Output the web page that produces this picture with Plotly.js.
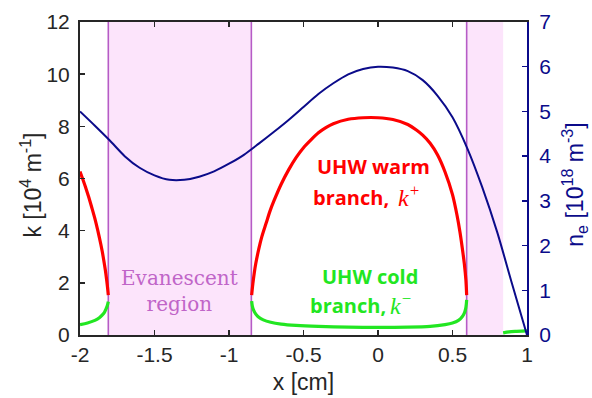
<!DOCTYPE html>
<html>
<head>
<meta charset="utf-8">
<script src="https://cdn.plot.ly/plotly-3.0.1.min.js"></script>
<style>html,body{margin:0;padding:0;background:#fff;}#chart{width:592px;height:398px;}</style>
</head>
<body>
<div id="chart"></div>
<script>
// ---- data ----
const xRedLeft = [-2, -1.98, -1.96, -1.94, -1.92, -1.9, -1.88, -1.86, -1.85, -1.84, -1.83, -1.82, -1.815, -1.81];
const kRedLeft = [6.27, 5.95, 5.62, 5.26, 4.87, 4.46, 3.99, 3.47, 3.18, 2.85, 2.49, 2.06, 1.81, 1.53];

const xGreenLeft = [-2, -1.95, -1.9, -1.87, -1.85, -1.835, -1.825, -1.817, -1.81];
const kGreenLeft = [0.4, 0.46, 0.56, 0.66, 0.77, 0.88, 1.0, 1.12, 1.28];

const xRedMid = [-0.848, -0.845, -0.84, -0.83, -0.82, -0.8, -0.78, -0.75, -0.725, -0.7, -0.65, -0.6, -0.55, -0.5, -0.45, -0.4, -0.35, -0.3, -0.2, -0.1, 0, 0.1, 0.2, 0.26, 0.3, 0.35, 0.4, 0.45, 0.5, 0.53, 0.55, 0.57, 0.58, 0.59, 0.595];
const kRedMid = [1.53, 1.7, 1.96, 2.4, 2.75, 3.3, 3.76, 4.3, 4.75, 5.12, 5.78, 6.33, 6.8, 7.18, 7.48, 7.75, 7.95, 8.1, 8.27, 8.33, 8.33, 8.26, 8.07, 7.85, 7.66, 7.35, 6.9, 6.25, 5.38, 4.6, 3.95, 3.15, 2.7, 2.1, 1.53];

const xGreenMid = [-0.848, -0.843, -0.835, -0.82, -0.8, -0.77, -0.72, -0.65, -0.55, -0.4, -0.2, 0, 0.2, 0.35, 0.45, 0.5, 0.54, 0.565, 0.58, 0.588, 0.593, 0.595];
const kGreenMid = [1.3, 1.1, 0.95, 0.8, 0.68, 0.58, 0.49, 0.42, 0.37, 0.33, 0.3, 0.29, 0.3, 0.33, 0.4, 0.46, 0.56, 0.7, 0.85, 1.0, 1.2, 1.35];

const xGreenRight = [0.84, 0.88, 0.93, 1.0];
const kGreenRight = [0.08, 0.12, 0.14, 0.16];

const xDensity = [-2, -1.9, -1.8, -1.7, -1.6, -1.5, -1.4, -1.3, -1.2, -1.1, -1.0, -0.9, -0.8, -0.7, -0.6, -0.5, -0.4, -0.3, -0.2, -0.1, 0, 0.1, 0.2, 0.3, 0.4, 0.5, 0.6, 0.7, 0.8, 0.9, 1.0];
const neDensity = [5.0, 4.68, 4.35, 4.0, 3.74, 3.57, 3.47, 3.47, 3.54, 3.66, 3.83, 4.03, 4.28, 4.54, 4.81, 5.1, 5.39, 5.63, 5.83, 5.95, 6.0, 5.98, 5.9, 5.7, 5.35, 4.87, 4.17, 3.3, 2.3, 1.14, 0.0];

// evanescent regions and cut-off lines
const regionStart = [-1.81, 0.595];
const regionEnd = [-0.85, 0.84];
const cutoffLines = [-1.81, -0.85, 0.595];

const xTickVals = [-2, -1.5, -1, -0.5, 0, 0.5, 1];
const xTickText = ['-2', '-1.5', '-1', '-0.5', '0', '0.5', '1'];

// ---- styles ----
const RED = '#ff0000', GREEN = '#22e622', NAVY = '#0b0b8a', PURPLE = '#b65cc6', PINK = '#fce4fb';
const TXT = '#262626';

function line(x, y, color, width, yaxis) {
  return {x: x, y: y, type: 'scatter', mode: 'lines', yaxis: yaxis || 'y',
          line: {color: color, width: width, shape: 'spline', smoothing: 0.8},
          hoverinfo: 'skip', showlegend: false};
}

const traces = [
  line(xDensity, neDensity, NAVY, 2, 'y2'),
  line(xRedLeft, kRedLeft, RED, 3.2),
  line(xGreenLeft, kGreenLeft, GREEN, 3.2),
  line(xRedMid, kRedMid, RED, 3.2),
  line(xGreenMid, kGreenMid, GREEN, 3.2),
  line(xGreenRight, kGreenRight, GREEN, 3.2)
];

const shapes = [];
regionStart.forEach((s, i) => {
  shapes.push({type: 'rect', xref: 'x', yref: 'paper', x0: s, x1: regionEnd[i], y0: 0, y1: 1,
               fillcolor: PINK, line: {width: 0}, layer: 'below'});
});
cutoffLines.forEach(v => {
  shapes.push({type: 'line', xref: 'x', yref: 'paper', x0: v, x1: v, y0: 0, y1: 1,
               line: {color: PURPLE, width: 1.6}, layer: 'below'});
});

const boldFont = c => ({family: "Open Sans, Arial, sans-serif", size: 20, color: c, weight: 'bold'});
const kFont = c => ({family: "Liberation Serif, serif", size: 24, color: c, style: 'italic'});

const layout = {
  width: 592, height: 398,
  margin: {l: 80, r: 65, t: 22, b: 63},
  paper_bgcolor: '#fff', plot_bgcolor: 'rgba(0,0,0,0)',
  font: {family: "Liberation Sans, Arial, sans-serif", size: 21, color: TXT},
  showlegend: false,
  xaxis: {
    range: [-2, 1], tickvals: xTickVals, ticktext: xTickText,
    showgrid: false, zeroline: false, showline: true, linecolor: TXT, linewidth: 2,
    mirror: 'ticks', ticks: 'inside', ticklen: 5, tickwidth: 1.5, tickcolor: TXT,
    tickfont: {size: 21, color: TXT},
    title: {text: 'x [cm]', font: {size: 23, color: TXT}, standoff: 9}
  },
  yaxis: {
    range: [0, 12], dtick: 2, tick0: 0,
    showgrid: false, zeroline: false, showline: true, linecolor: TXT, linewidth: 2,
    ticks: 'inside', ticklen: 5, tickwidth: 1.5, tickcolor: TXT,
    tickfont: {size: 21, color: TXT}, ticklabelstandoff: 4
  },
  yaxis2: {
    range: [0, 7], dtick: 1, tick0: 0, overlaying: 'y', side: 'right',
    showgrid: false, zeroline: false, showline: true, linecolor: NAVY, linewidth: 2,
    ticks: 'inside', ticklen: 5, tickwidth: 1.5, tickcolor: NAVY,
    tickfont: {size: 21, color: NAVY}, ticklabelstandoff: 6
  },
  shapes: shapes,
  annotations: [
    {xref: 'paper', yref: 'paper', x: -0.11, y: 0.48, textangle: -90, showarrow: false,
     xanchor: 'center', yanchor: 'middle',
     text: 'k [10<sup>4</sup> m<sup>-1</sup>]', font: {size: 23, color: TXT}},
    {xref: 'paper', yref: 'paper', x: 1.105, y: 0.48, textangle: -90, showarrow: false,
     xanchor: 'center', yanchor: 'middle',
     text: 'n<sub>e</sub> [10<sup>18</sup> m<sup>-3</sup>]', font: {size: 23, color: NAVY}},
    // warm branch label
    {xref: 'x', yref: 'y', x: -0.03, y: 6.45, showarrow: false, xanchor: 'center', yanchor: 'middle',
     text: 'UHW warm', font: boldFont(RED), borderpad: 0},
    {xref: 'x', yref: 'y', x: 0.082, y: 5.27, showarrow: false, xanchor: 'right', yanchor: 'middle',
     text: 'branch,', font: boldFont(RED), borderpad: 0},
    {xref: 'x', yref: 'y', x: 0.13, y: 5.34, showarrow: false, xanchor: 'left', yanchor: 'middle',
     text: 'k<sup>+</sup>', font: kFont(RED), borderpad: 0},
    // cold branch label
    {xref: 'x', yref: 'y', x: -0.054, y: 2.24, showarrow: false, xanchor: 'center', yanchor: 'middle',
     text: 'UHW cold', font: boldFont(GREEN), borderpad: 0},
    {xref: 'x', yref: 'y', x: 0.062, y: 1.13, showarrow: false, xanchor: 'right', yanchor: 'middle',
     text: 'branch,', font: boldFont(GREEN), borderpad: 0},
    {xref: 'x', yref: 'y', x: 0.075, y: 1.2, showarrow: false, xanchor: 'left', yanchor: 'middle',
     text: 'k<sup>−</sup>', font: kFont(GREEN), borderpad: 0},
    {xref: 'x', yref: 'y', x: -1.33, y: 1.69, showarrow: false, align: 'center',
     text: 'Evanescent<br>region',
     font: {family: "DejaVu Serif, serif", size: 20, color: '#c065c8'}}
  ]
};

Plotly.newPlot('chart', traces, layout, {staticPlot: true, displayModeBar: false});
</script>
</body>
</html>
